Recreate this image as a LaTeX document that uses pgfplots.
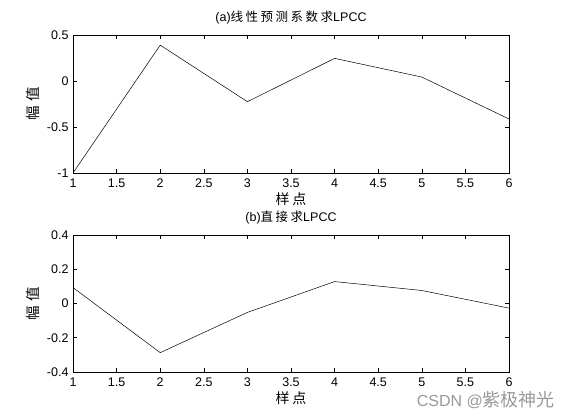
\documentclass[border=0pt]{standalone}
\usepackage{pgfplots}
\pgfplotsset{compat=1.18}
\usepackage{fontspec}
\setmainfont{Liberation Sans}
\newfontfamily\cjk{Noto Sans CJK SC}[LetterSpace=20]
\newfontfamily\cjkw{Noto Sans CJK SC}

\pgfplotsset{
 matlab/.style={
  scale only axis,
  clip=false,
  width=436pt,
  xmin=1, xmax=6,
  xtick={1,1.5,...,6},
  xticklabels={1,1.5,2,2.5,3,3.5,4,4.5,5,5.5,6},
  tick align=inside,
  tick pos=both,
  major tick length=4pt,
  axis line style={line width=0.6pt},
  every tick/.style={black, line width=0.5pt},
  /pgf/number format/assume math mode=true,
  tick label style={font=\fontsize{12.5}{14}\selectfont},
  xticklabel style={anchor=base, yshift=-15pt},
  yticklabel style={xshift=-1pt},
  xlabel style={font=\cjk\fontsize{14}{16}\selectfont,
   at={(axis description cs:0.5,0)}, anchor=center, yshift=-26pt},
  title style={font=\fontsize{12.5}{14}\selectfont,
   at={(axis description cs:0.5,1)}, anchor=center, yshift=11pt},
  xlabel={样点},
 }
}
% y label: one rotated node per character
\newcommand\ylab{%
  \node[rotate=90, font=\cjkw\fontsize{14.5}{16}\selectfont, inner sep=0pt]
    at (rel axis cs:-0.092,0.43) {幅};
  \node[rotate=90, font=\cjkw\fontsize{14.5}{16}\selectfont, inner sep=0pt]
    at (rel axis cs:-0.092,0.57) {值};}

\begin{document}
\begin{tikzpicture}
\path[use as bounding box] (0,0) rectangle (562pt,420pt);

\begin{axis}[matlab,
  at={(73pt,247pt)}, anchor=south west,
  height=138pt,
  ymin=-1, ymax=0.5,
  ytick={-1,-0.5,0,0.5},
  yticklabels={-1,-0.5,0,0.5},
  title={(a){\cjk 线性预测系数求}LPCC},
 ]
 \addplot[black, line width=0.5pt] coordinates {
  (1, -1.000)
  (2, 0.390)
  (3, -0.225)
  (4, 0.246)
  (5, 0.043)
  (6, -0.413)
 };
 \ylab
\end{axis}

\begin{axis}[matlab,
  at={(73pt,48pt)}, anchor=south west,
  height=137pt,
  ymin=-0.4, ymax=0.4,
  ytick={-0.4,-0.2,0,0.2,0.4},
  yticklabels={-0.4,-0.2,0,0.2,0.4},
  title={(b){\cjk 直接求}LPCC},
 ]
 \addplot[black, line width=0.5pt] coordinates {
  (1, 0.093)
  (2, -0.287)
  (3, -0.052)
  (4, 0.128)
  (5, 0.076)
  (6, -0.027)
 };
 \ylab
\end{axis}

\node[anchor=east, text=black!40, font=\fontsize{16}{18}\selectfont, inner sep=0pt] at (555pt,20pt) {CSDN @{\cjkw\fontsize{18}{20}\selectfont 紫极神光}};
\end{tikzpicture}
\end{document}
